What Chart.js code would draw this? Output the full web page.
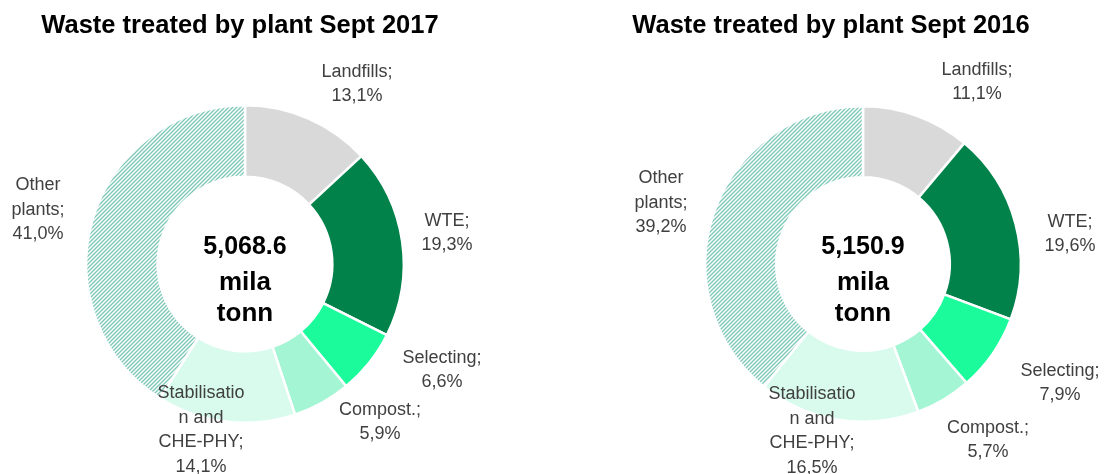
<!DOCTYPE html>
<html>
<head>
<meta charset="utf-8">
<script src="https://cdn.jsdelivr.net/npm/chart.js@4.4.1/dist/chart.umd.min.js"></script>
<style>
    html, body { margin: 0; padding: 0; background: #ffffff; }
    #wrap { position: relative; width: 1108px; height: 474px; overflow: hidden; }
    .box { position: absolute; top: 0; width: 554px; height: 474px; }
    #box1 { left: 0; }
    #box2 { left: 554px; }
</style>
</head>
<body>
<div id="wrap">
    <div class="box" id="box1"><canvas id="chart2017"></canvas></div>
    <div class="box" id="box2"><canvas id="chart2016"></canvas></div>
</div>
<script>
const categories = ['Landfills', 'WTE', 'Selecting', 'Compost.', 'Stabilisation and CHE-PHY', 'Other plants'];
const labelLines = [['Landfills;'], ['WTE;'], ['Selecting;'], ['Compost.;'], ['Stabilisatio', 'n and', 'CHE-PHY;'], ['Other', 'plants;']];
const share2017 = [13.1, 19.3, 6.6, 5.9, 14.1, 41.0];
const share2016 = [11.1, 19.6, 7.9, 5.7, 16.5, 39.2];
const total2017 = '5,068.6';
const total2016 = '5,150.9';
const totalUnit = ['mila', 'tonn'];
const title2017 = 'Waste treated by plant Sept 2017';
const title2016 = 'Waste treated by plant Sept 2016';

// hatched fill for "Other plants"
function makeHatch() {
    const c = document.createElement('canvas');
    c.width = 4;
    c.height = 4;
    const g = c.getContext('2d');
    g.fillStyle = '#ffffff';
    g.fillRect(0, 0, 4, 4);
    g.strokeStyle = '#7dc8b7';
    g.lineWidth = 1.4;
    g.beginPath();
    g.moveTo(-1, 5); g.lineTo(5, -1);
    g.moveTo(-1, 1); g.lineTo(1, -1);
    g.moveTo(3, 5); g.lineTo(5, 3);
    g.stroke();
    return g.createPattern(c, 'repeat');
}

const hatch = makeHatch();
const sliceColors = ['#d9d9d9', '#00824a', '#1cfb9c', '#a4f5d4', '#d8fbee', hatch];

const pct = v => v.toFixed(1).replace('.', ',') + '%';

const textPlugin = {
    id: 'textPlugin',
    afterDraw(chart, args, opts) {
        const ctx = chart.ctx;
        const arc = chart.getDatasetMeta(0).data[0];
        const cx = arc.x, cy = arc.y;
        ctx.save();
        ctx.textAlign = 'center';
        ctx.textBaseline = 'middle';

        // title
        ctx.fillStyle = '#000000';
        ctx.font = 'bold 25.5px "Liberation Sans", Arial, sans-serif';
        ctx.fillText(opts.title, cx + opts.titleDx, 26);

        // centre total
        ctx.font = 'bold 25px "Liberation Sans", Arial, sans-serif';
        ctx.fillText(opts.total, cx, cy - 17);
        ctx.font = 'bold 26px "Liberation Sans", Arial, sans-serif';
        ctx.fillText(totalUnit[0], cx, cy + 19);
        ctx.fillText(totalUnit[1], cx, cy + 50);

        // slice labels
        ctx.fillStyle = '#404040';
        ctx.font = '18px "Liberation Sans", Arial, sans-serif';
        const values = chart.data.datasets[0].data;
        labelLines.forEach((lines, i) => {
            const all = lines.concat([pct(values[i])]);
            const [dx, dy] = opts.offsets[i];
            const lh = 24.5;
            const top = cy + dy - (all.length - 1) * lh / 2;
            all.forEach((t, k) => ctx.fillText(t, cx + dx, top + k * lh));
        });
        ctx.restore();
    }
};

function makeDonut(id, values, total, title, padding, titleDx, offsets) {
    return new Chart(document.getElementById(id), {
        type: 'doughnut',
        data: {
            labels: categories,
            datasets: [{
                data: values,
                backgroundColor: sliceColors,
                borderColor: '#ffffff',
                borderWidth: 2.5,
                borderAlign: 'center'
            }]
        },
        options: {
            responsive: true,
            maintainAspectRatio: false,
            animation: false,
            cutout: '55%',
            layout: { padding: padding },
            plugins: {
                legend: { display: false },
                tooltip: { enabled: false },
                textPlugin: { title: title, total: total, titleDx: titleDx, offsets: offsets }
            }
        },
        plugins: [textPlugin]
    });
}

makeDonut('chart2017', share2017, total2017, title2017,
    { left: 85, right: 149, top: 104, bottom: 50 }, -5,
    [[112, -180], [202, -31], [197, 106], [135, 158], [-44, 166], [-207, -54]]);

makeDonut('chart2016', share2016, total2016, title2016,
    { left: 150, right: 86, top: 105, bottom: 51 }, -32,
    [[114, -182], [207, -30], [197, 119], [125, 176], [-51, 167], [-202, -61]]);
</script>
</body>
</html>
